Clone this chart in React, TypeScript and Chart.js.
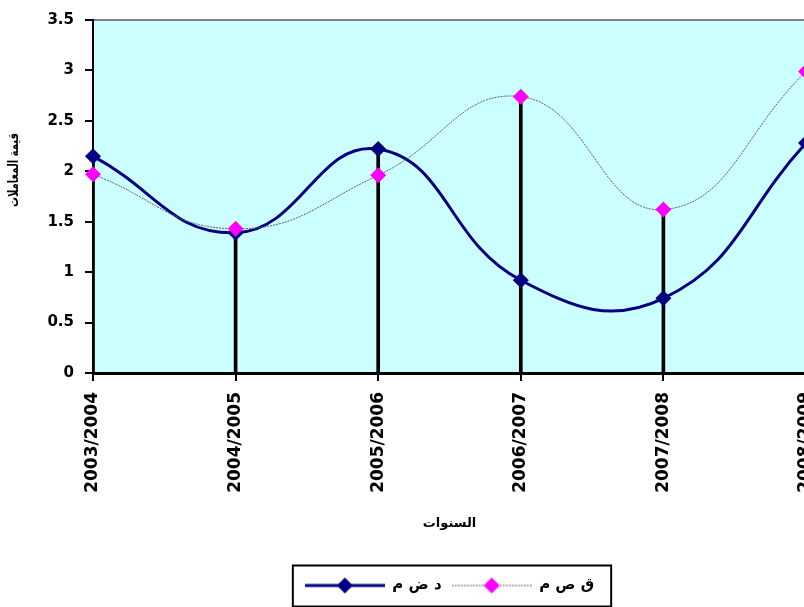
import React, { useEffect, useRef } from "react";
import { Chart, registerables } from "chart.js";

Chart.register(...registerables);
Chart.defaults.font.family = "'DejaVu Sans', 'Liberation Sans', sans-serif";
Chart.defaults.color = "#000";

// ---- data ----
const categories = ["2003/2004", "2004/2005", "2005/2006", "2006/2007", "2007/2008", "2008/2009"];
const seriesMDD = [2.15, 1.39, 2.22, 0.92, 0.74, 2.28]; // navy
const seriesMSQ = [1.97, 1.43, 1.96, 2.74, 1.62, 2.99]; // magenta
const labelMDD = "د ض م";
const labelMSQ = "ق ص م";
const yTitle = "قيمة المعاملات";
const xTitle = "السنوات";
const yMin = 0;
const yMax = 3.5;
const yStep = 0.5;
const dropValues = categories.map((_, i) => Math.max(seriesMDD[i], seriesMSQ[i]));

const NAVY = "#000080";
const MAGENTA = "#FF00FF";

function makeSymbol(fill: string, line: string, lw: number, dash: number[]) {
  const c = document.createElement("canvas");
  c.width = 80;
  c.height = 18;
  const ctx = c.getContext("2d")!;
  ctx.strokeStyle = line;
  ctx.lineWidth = lw;
  ctx.setLineDash(dash);
  ctx.beginPath();
  ctx.moveTo(0, 9);
  ctx.lineTo(80, 9);
  ctx.stroke();
  ctx.setLineDash([]);
  ctx.fillStyle = fill;
  ctx.beginPath();
  ctx.moveTo(40 - 8, 9);
  ctx.lineTo(40, 1);
  ctx.lineTo(40 + 8, 9);
  ctx.lineTo(40, 17);
  ctx.closePath();
  ctx.fill();
  return c;
}

const decorPlugin = {
  id: "decor",
  beforeDraw(chart: any) {
    const { ctx, chartArea: a } = chart;
    ctx.save();
    ctx.fillStyle = "#CCFFFF";
    ctx.fillRect(a.left, a.top, a.right - a.left, a.bottom - a.top);
    ctx.strokeStyle = "#808080";
    ctx.lineWidth = 2;
    ctx.beginPath();
    ctx.moveTo(a.left, a.top);
    ctx.lineTo(a.right, a.top);
    ctx.stroke();
    ctx.restore();
  },
  afterDraw(chart: any) {
    const { ctx, chartArea: a } = chart;
    ctx.save();
    ctx.translate(14, a.top + (a.bottom - a.top) * 0.425);
    ctx.rotate(-Math.PI / 2);
    ctx.font = "bold 14px 'DejaVu Sans'";
    ctx.textAlign = "center";
    ctx.textBaseline = "middle";
    ctx.fillStyle = "#000";
    ctx.fillText(yTitle, 0, 0, 74);
    ctx.restore();

    const lg = chart.legend;
    const hb = lg && lg.legendHitBoxes;
    if (hb && hb.length) {
      const first = hb[0];
      const last = hb[hb.length - 1];
      const l = first.left - 12;
      const r = last.left + last.width + 17;
      const cy = first.top + first.height / 2;
      ctx.save();
      ctx.strokeStyle = "#000";
      ctx.lineWidth = 2;
      ctx.strokeRect(l, cy - 20, r - l, 41);
      ctx.restore();
    }
  },
};

export default function App() {
  const ref = useRef<HTMLCanvasElement | null>(null);
  useEffect(() => {
    if (!ref.current) return;
    const symNavy = makeSymbol(NAVY, NAVY, 3, []);
    const symMag = makeSymbol(MAGENTA, "#666666", 1, [2, 1]);
    const chart = new Chart(ref.current, {
      type: "line",
      data: {
        labels: categories,
        datasets: [
          {
            type: "line",
            label: labelMSQ,
            data: seriesMSQ,
            borderColor: "#606060",
            borderWidth: 1,
            borderDash: [2, 1],
            tension: 0.45,
            pointStyle: "rectRot",
            pointRadius: 8,
            pointBackgroundColor: MAGENTA,
            pointBorderColor: MAGENTA,
            pointBorderWidth: 0,
            order: 0,
          },
          {
            type: "line",
            label: labelMDD,
            data: seriesMDD,
            borderColor: NAVY,
            borderWidth: 3,
            tension: 0.45,
            pointStyle: "rectRot",
            pointRadius: 8,
            pointBackgroundColor: NAVY,
            pointBorderColor: NAVY,
            pointBorderWidth: 0,
            order: 1,
          },
          {
            type: "bar",
            label: "drop",
            data: dropValues,
            backgroundColor: "#000",
            barThickness: 3,
            order: 2,
          } as any,
        ],
      },
      options: {
        animation: false,
        responsive: false,
        maintainAspectRatio: false,
        layout: { padding: { top: 17, left: 0, right: 14, bottom: 4 } },
        plugins: {
          tooltip: { enabled: false },
          legend: {
            position: "bottom",
            fullSize: false,
            labels: {
              usePointStyle: true,
              pointStyleWidth: 80,
              padding: 10,
              font: { size: 15, weight: "bold" },
              generateLabels: () => [
                { text: labelMDD, pointStyle: symNavy, datasetIndex: 1, hidden: false, fillStyle: NAVY, strokeStyle: NAVY, lineWidth: 0, fontColor: "#000" },
                { text: labelMSQ, pointStyle: symMag, datasetIndex: 0, hidden: false, fillStyle: MAGENTA, strokeStyle: MAGENTA, lineWidth: 0, fontColor: "#000" },
              ] as any,
            },
          },
        },
        scales: {
          x: {
            type: "category",
            offset: false,
            grid: { display: true, drawOnChartArea: false, drawTicks: true, tickLength: 8, color: "#000", lineWidth: 2, offset: false },
            border: { display: true, color: "#000", width: 3 },
            ticks: { autoSkip: false, maxRotation: 90, minRotation: 90, padding: 11, font: { size: 17, weight: "bold" } },
            title: { display: true, text: xTitle, font: { size: 13, weight: "bold" }, padding: { top: 0, bottom: 37 } },
            afterFit: (s: any) => { s.height = 195; s.paddingLeft = 0; s.paddingRight = 0; },
          },
          y: {
            min: yMin,
            max: yMax,
            grid: { display: true, drawOnChartArea: false, drawTicks: true, tickLength: 8, color: "#000", lineWidth: 2 },
            border: { display: true, color: "#000", width: 2 },
            ticks: { stepSize: yStep, padding: 11, font: { size: 15, weight: "bold" }, callback: (v: any) => String(Number(v)) },
            afterFit: (s: any) => { s.width = 93; },
          },
        },
      },
      plugins: [decorPlugin],
    });
    return () => chart.destroy();
  }, []);
  return (
    <div style={{ position: "absolute", left: 0, top: 0, width: 804, height: 607, overflow: "hidden", background: "#fff" }}>
      <canvas ref={ref} width={820} height={607} style={{ display: "block", width: 820, height: 607 }} />
    </div>
  );
}
